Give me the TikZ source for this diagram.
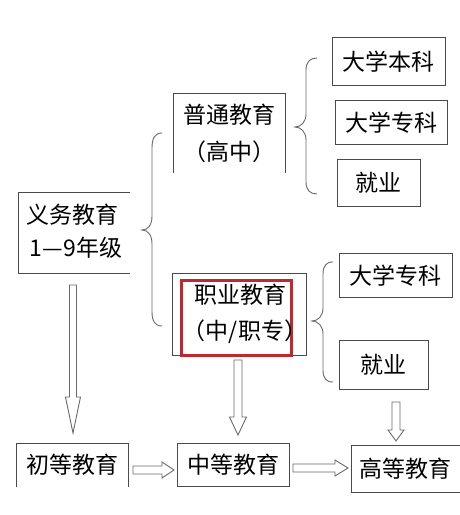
\documentclass[tikz,border=0pt]{standalone}
\usepackage{fontspec}
\setmainfont{Noto Sans CJK SC}
\definecolor{boxc}{HTML}{4A4A4A}
\definecolor{linec}{HTML}{6A6A6A}
\definecolor{redc}{HTML}{C0282D}
\newcommand{\BlkDown}[6]{% x, ytop, yhead, ytip, shafthalf, headhalf
  \draw[blockarr] (#1-#5,#2) -- (#1+#5,#2) -- (#1+#5,#3) -- (#1+#6,#3) -- (#1,#4) -- (#1-#6,#3) -- (#1-#5,#3) -- cycle;}
\newcommand{\BlkRight}[6]{% y, xleft, xhead, xtip, shafthalf, headhalf
  \draw[blockarr] (#2,#1-#5) -- (#3,#1-#5) -- (#3,#1-#6) -- (#4,#1) -- (#3,#1+#6) -- (#3,#1+#5) -- (#2,#1+#5) -- cycle;}
\begin{document}
\begin{tikzpicture}[x=1pt,y=-1pt,
  every node/.style={font=\fontsize{23}{27}\selectfont, text=black},
  boxnode/.style={rectangle, draw=boxc, line width=0.9pt, inner sep=0pt, anchor=north west},
  opennode/.style={rectangle, draw=none, inner sep=0pt, anchor=north west},
  side/.style={draw=boxc, line width=0.9pt},
  bracel/.style={draw=linec, line width=0.9pt},
  blockarr/.style={draw=linec, line width=0.9pt, fill=white, line join=miter}]
\useasboundingbox[fill=white] (0,0) rectangle (460,515);

% right-hand boxes
\node[boxnode, minimum width=113pt, minimum height=48pt] (bk) at (332,37) {大学本科};
\node[boxnode, minimum width=112pt, minimum height=44pt] (zk1) at (335,100) {大学专科};
\node[boxnode, minimum width=83pt, minimum height=47pt] (jy1) at (337,159) {就业};
\node[boxnode, minimum width=113pt, minimum height=44pt] (zk2) at (339,253) {大学专科};
\node[boxnode, minimum width=89pt, minimum height=49pt] (jy2) at (339,340) {就业};

% 普通教育 (open bottom)
\node[opennode, minimum width=112pt, minimum height=80pt] (pt) at (173,93) {};
\draw[side] (pt.south west) -- (pt.north west) -- (pt.north east) -- (pt.south east);
\node (pt1) at (229,115) {普通教育};
\node (pt2) at (229,152) {（高中）};

% 义务教育 (open right)
\node[opennode, minimum width=112pt, minimum height=81pt] (yw) at (18,192) {};
\draw[side] (yw.north east) -- (yw.north west) -- (yw.south west) -- (yw.south east);
\node (yw1) at (73,215) {义务教育};
\node (yw2) at (76,248) {1—9年级};

% 职业教育
\node[boxnode, minimum width=134pt, minimum height=82pt] (zy) at (172,273) {};
\node[rectangle, draw=redc, line width=2.6pt, inner sep=0pt, anchor=north west,
      minimum width=110pt, minimum height=75pt] (red) at (180,279) {};
\node (zy1) at (240,295) {职业教育};
\node (zy2) at (245,332) {（中/职专）};

% bottom row
\node[opennode, minimum width=112pt, minimum height=44pt] (cd) at (16,443) {初等教育};
\draw[side] (cd.south west) -- (cd.north west) -- (cd.north east) -- (cd.south east);
\node[boxnode, minimum width=112pt, minimum height=43pt] (zd) at (177,443) {中等教育};
\node[boxnode, minimum width=108.5pt, minimum height=47pt] (gd) at (351,445) {高等教育};

% braces
\draw[bracel] (162,133) .. controls (155,133) and (152,138) .. (152,148) -- (152,216)
  .. controls (152,225) and (148,230) .. (142,230)
  .. controls (148,230) and (152,235) .. (152,244) -- (152,312)
  .. controls (152,321) and (155,326) .. (162,326);
\draw[bracel] (317,58) .. controls (310,58) and (306,62) .. (306,70) -- (306,114)
  .. controls (306,122) and (301,127) .. (295,127)
  .. controls (301,127) and (306,132) .. (306,140) -- (306,182)
  .. controls (306,190) and (310,194) .. (317,194);
\draw[bracel] (333,262) .. controls (326,262) and (323,266) .. (323,274) -- (323,308)
  .. controls (323,316) and (318,321) .. (312,321)
  .. controls (318,321) and (323,326) .. (323,334) -- (323,370)
  .. controls (323,378) and (326,382) .. (333,382);

% block arrows
\BlkDown{73}{285}{397}{433}{3.5}{7.5}
\BlkDown{238}{360}{417}{435}{4}{8.5}
\BlkDown{396}{402}{430}{441}{4}{8}
\BlkRight{470}{133}{162}{174}{4}{8}
\BlkRight{468}{293}{335}{348}{4}{8}
\end{tikzpicture}
\end{document}
